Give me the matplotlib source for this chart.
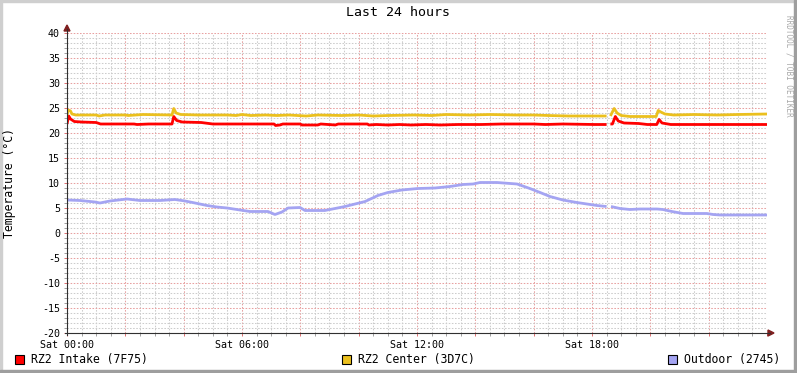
import numpy as np
import matplotlib
matplotlib.use("Agg")
import matplotlib.pyplot as plt
from matplotlib.patches import Polygon, Rectangle
from matplotlib.lines import Line2D

plt.rcParams["axes.unicode_minus"] = False

W, H = 797, 373
MONO = "DejaVu Sans Mono"

# hours since Sat 00:00, values in degC (nan = gap in data)
intake_h = [0.00, 0.06, 0.12, 0.25, 0.5, 1.0, 1.15, 2.3, 2.4, 2.8, 3.6, 3.66, 3.76, 3.95,
            4.6, 5.0, 7.1, 7.15, 7.3, 7.4, 8.0, 8.05, 8.6, 8.7, 9.2, 9.3, 10.3, 10.35,
            10.6, 11.0, 11.4, 11.8, 12.3, 12.8, 13.4, 14.2, 14.9, 16.0, 16.4, 17.0,
            18.1, 18.5, 18.56, 18.63, 18.7, 18.8, 18.9, 19.1, 19.6, 19.9, 20.22, 20.3,
            20.4, 20.7, 24.0]
intake_v = [21.8, 23.4, 22.8, 22.3, 22.2, 22.1, 21.8, 21.8, 21.7, 21.8, 21.8, 23.3, 22.5, 22.2,
            22.1, 21.8, 21.8, 21.5, 21.6, 21.8, 21.8, 21.6, 21.6, 21.8, 21.6, 21.8, 21.8, 21.6,
            21.7, 21.6, 21.7, 21.6, 21.7, 21.6, 21.7, 21.7, 21.8, 21.8, 21.7, 21.8,
            21.7, 21.7, np.nan, 21.8, 21.8, 23.3, 22.4, 22.0, 21.9, 21.7, 21.7, 22.7,
            22.0, 21.7, 21.7]

center_h = [0.00, 0.04, 0.12, 0.17, 0.3, 1.0, 1.1, 1.3, 2.0, 2.1, 2.6, 3.6, 3.66, 3.74,
            3.9, 4.5, 5.5, 5.8, 6.0, 6.3, 6.8, 7.2, 7.6, 8.2, 8.6, 9.4, 10.0, 10.5, 11.0,
            11.9, 12.5, 13.0, 13.8, 14.5, 15.4, 16.0, 16.5, 17.2, 18.0, 18.5, 18.56,
            18.63, 18.76, 18.86, 19.0, 19.3, 20.2, 20.27, 20.36, 20.5, 20.8, 21.5, 22.3,
            23.0, 24.0]
center_v = [23.6, 24.6, 24.4, 23.8, 23.6, 23.6, 23.4, 23.6, 23.6, 23.5, 23.7, 23.6, 24.9, 24.0,
            23.7, 23.6, 23.6, 23.5, 23.7, 23.5, 23.6, 23.5, 23.6, 23.4, 23.6, 23.5, 23.6, 23.4, 23.5,
            23.6, 23.5, 23.7, 23.6, 23.7, 23.6, 23.6, 23.5, 23.4, 23.4, 23.4, np.nan,
            23.4, 24.9, 24.0, 23.5, 23.3, 23.3, 24.5, 24.2, 23.8, 23.6, 23.7, 23.6,
            23.7, 23.8]

outdoor_h = [0.0, 0.45, 0.96, 1.13, 1.47, 2.06, 2.5, 3.19, 3.7, 4.05, 4.39, 4.8, 5.14, 5.49,
             5.93, 6.27, 6.89, 7.13, 7.37, 7.58, 7.99, 8.16, 8.84, 9.19, 9.53, 10.22, 10.66,
             11.0, 11.48, 12.03, 12.62, 13.13, 13.58, 13.92, 14.16, 14.74, 15.43, 15.87,
             16.22, 16.56, 17.0, 17.48, 18.17, 18.5, 18.56, 18.65, 18.96, 19.3, 19.65, 20.23,
             20.43, 20.74, 21.12, 21.94, 22.15, 22.39, 24.0]
outdoor_v = [6.6, 6.5, 6.2, 6.0, 6.4, 6.8, 6.5, 6.5, 6.7, 6.4, 6.0, 5.5, 5.2, 5.0,
             4.6, 4.3, 4.3, 3.7, 4.2, 5.0, 5.1, 4.5, 4.5, 4.9, 5.3, 6.3, 7.5,
             8.1, 8.6, 8.9, 9.0, 9.3, 9.7, 9.8, 10.1, 10.1, 9.8, 8.9,
             8.1, 7.3, 6.6, 6.1, 5.5, 5.3, np.nan, 5.3, 4.9, 4.7, 4.8, 4.8,
             4.7, 4.3, 3.9, 3.9, 3.7, 3.6, 3.6]

labels = ["RZ2 Intake (7F75)", "RZ2 Center (3D7C)", "Outdoor (2745)"]
colors = ["#FF0000", "#EBC01E", "#A4A4F2"]
xtick_labels = ["Sat 00:00", "Sat 06:00", "Sat 12:00", "Sat 18:00"]


def fx(x):
    return x / W


def fy(y):
    return 1 - y / H


fig = plt.figure(figsize=(W / 100, H / 100), dpi=100)
fig.patch.set_facecolor("white")
ax = fig.add_axes([fx(67), fy(333), 700 / W, 300 / H])
ax.set_facecolor("white")

ax.set_xlim(0, 24)
ax.set_ylim(-20, 40)
ax.set_xticks(np.arange(0, 24.01, 2))
ax.set_xticks(np.arange(0, 24.01, 0.5), minor=True)
ax.set_xticklabels([xtick_labels[i // 3] if i % 3 == 0 and i < 12 else "" for i in range(13)])
ax.set_yticks(np.arange(-20, 41, 5))
ax.set_yticks(np.arange(-20, 41, 1), minor=True)

ax.grid(which="minor", color="#CCCCCC", linestyle=(0, (1.5, 1.5)), linewidth=0.75)
ax.grid(which="major", color="#E8A0A0", linestyle=(0, (1.5, 1.5)), linewidth=0.75)
ax.set_axisbelow(True)

for s in ax.spines.values():
    s.set_visible(False)

ax.tick_params(which="major", length=2, width=0.7, color="#E07070", direction="out",
               labelsize=7.2, pad=3)
ax.tick_params(which="minor", length=2, width=0.7, color="#A0A0A0", direction="out")
for t in ax.get_xticklabels() + ax.get_yticklabels():
    t.set_fontfamily(MONO)

for hh, vv, c in [(intake_h, intake_v, colors[0]), (center_h, center_v, colors[1]),
                  (outdoor_h, outdoor_v, colors[2])]:
    ax.plot(hh, vv, color=c, lw=2.0, solid_capstyle="butt")

# axis lines with arrows
axis_c = "#303030"
arrow_c = "#7F1F1F"
fig.add_artist(Line2D([fx(67), fx(67)], [fy(335), fy(29)], color=axis_c, lw=0.8))
fig.add_artist(Line2D([fx(65), fx(770)], [fy(333), fy(333)], color=axis_c, lw=0.8))
fig.add_artist(Polygon([[fx(64), fy(31)], [fx(70), fy(31)], [fx(67), fy(25)]],
                       closed=True, color=arrow_c, transform=fig.transFigure))
fig.add_artist(Polygon([[fx(768), fy(330)], [fx(768), fy(336)], [fx(774), fy(333)]],
                       closed=True, color=arrow_c, transform=fig.transFigure))

# texts
fig.text(fx(398), fy(13), "Last 24 hours", ha="center", va="center",
         fontsize=9.5, family=MONO)
fig.text(fx(10), fy(183), "Temperature (°C)", ha="center", va="center",
         rotation=90, fontsize=8.3, family=MONO)
fig.text(fx(789), fy(66), "RRDTOOL / TOBI OETIKER", ha="center", va="center",
         rotation=270, fontsize=5.5, family=MONO, color="#A8A8A8")

# legend
leg_x = [15, 342, 668]
for x0, lab, c in zip(leg_x, labels, colors):
    fig.add_artist(Rectangle((fx(x0), fy(364)), 9 / W, 9.5 / H, facecolor=c,
                             edgecolor="black", lw=0.8, transform=fig.transFigure))
    fig.text(fx(x0 + 15.5), fy(359.3), lab, ha="left", va="center",
             fontsize=8.3, family=MONO)

# frame shading
fig.add_artist(Rectangle((0, fy(2)), 1, 2 / H, color="#CFCFCF", transform=fig.transFigure))
fig.add_artist(Rectangle((0, 0), 2 / W, 1, color="#CFCFCF", transform=fig.transFigure))
fig.add_artist(Rectangle((0, 0), 1, 3 / H, color="#9E9E9E", transform=fig.transFigure))
fig.add_artist(Rectangle((fx(W - 3), 0), 3 / W, 1, color="#9E9E9E", transform=fig.transFigure))

fig.savefig("out.png", dpi=100)
